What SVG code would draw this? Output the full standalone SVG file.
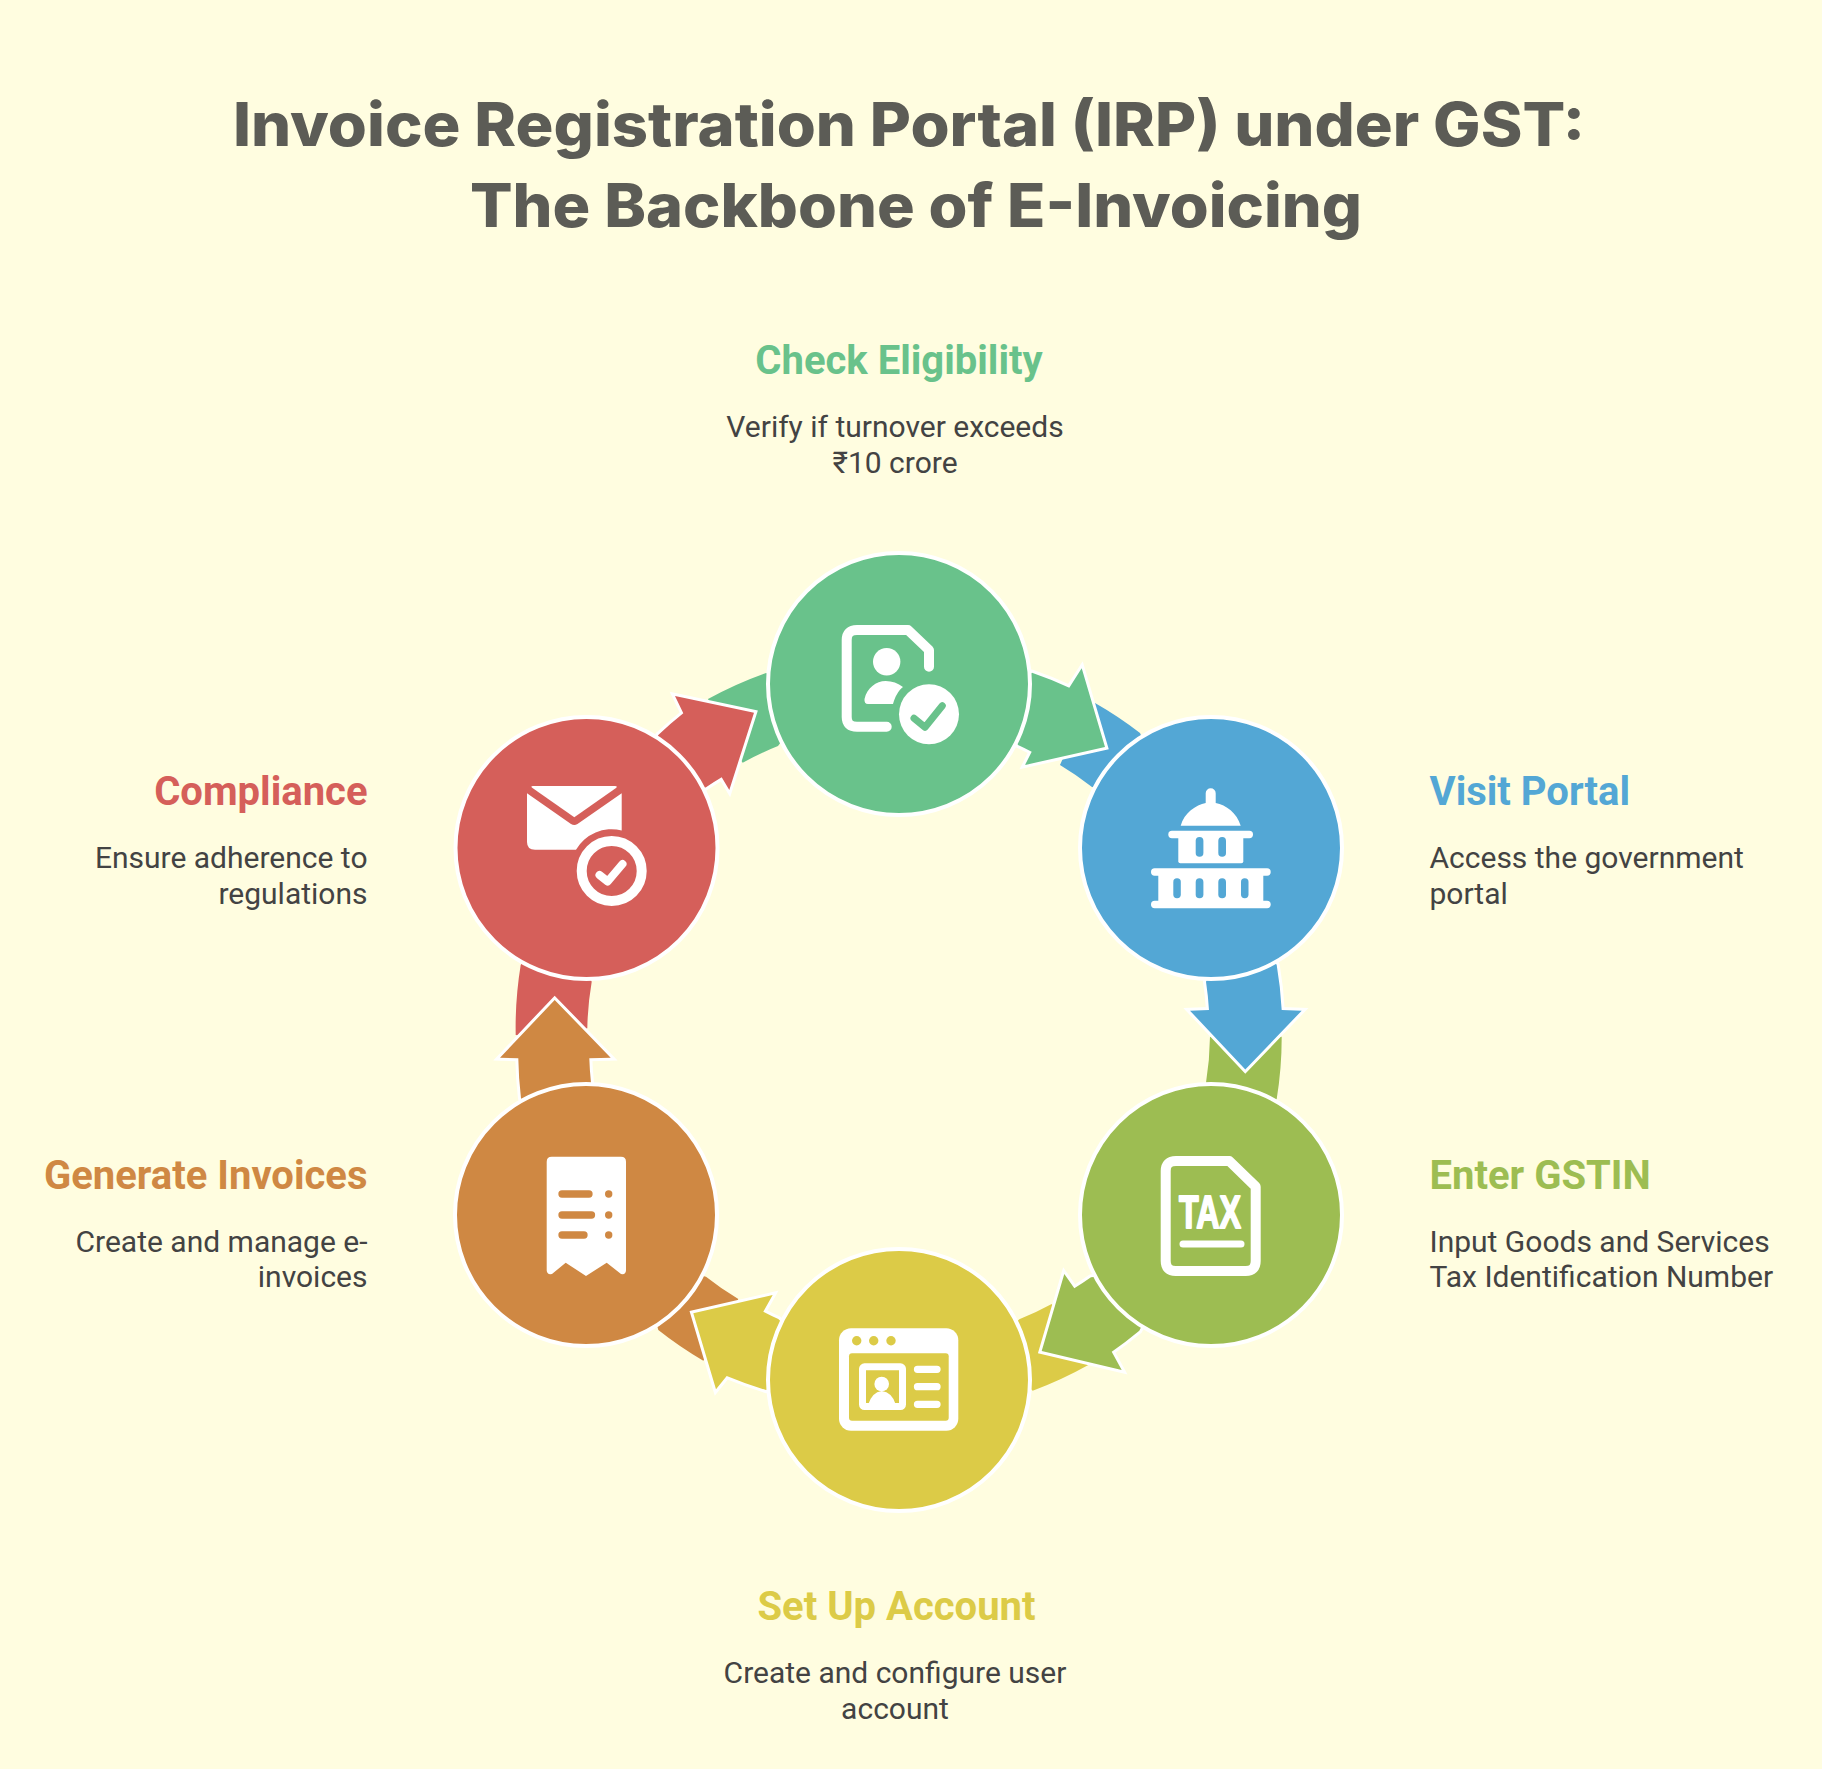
<svg xmlns="http://www.w3.org/2000/svg" width="1822" height="1769" viewBox="0 0 1822 1769">
<style>
.title{font-family:"Inter","Liberation Sans",sans-serif;font-weight:800;font-size:60px;fill:#5c5c56}
.h{font-family:"Roboto","Liberation Sans",sans-serif;font-weight:700;font-size:40px}
.b{font-family:"Roboto","Liberation Sans",sans-serif;font-weight:400;font-size:30px;fill:#434343}
.m{text-anchor:middle}.e{text-anchor:end}
.node{stroke:#fff;stroke-width:4}
.head{stroke:#fff;stroke-width:6;paint-order:stroke;stroke-linejoin:miter;stroke-miterlimit:6}
.w{fill:#fff}.ol{fill:none;stroke:#fff;stroke-linecap:round;stroke-linejoin:round}
.gr{fill:#69c28b}.bl{fill:#53a7d5}.ov{fill:#9dbd52}.ye{fill:#dccb47}.or{fill:#cf8843}.re{fill:#d55f5a}
</style>
<rect width="1822" height="1769" fill="#fffde0"/>
<g id="title">
<text class="title" x="233" y="146" textLength="1352" lengthAdjust="spacingAndGlyphs">Invoice Registration Portal (IRP) under GST:</text>
<text class="title" x="470" y="227" textLength="892" lengthAdjust="spacingAndGlyphs">The Backbone of E-Invoicing</text>
</g>
<g id="connectors">
<path class="gr" d="M708,699A384 384 0 0 1 766,673L820,690L778,746A311 311 0 0 0 742.7,762.7L725,740Z"/>
<path class="bl" d="M1095,703A384 384 0 0 1 1140,733L1170,800L1092,787A311 311 0 0 0 1060,765L1080,720Z"/>
<path class="ov" d="M1281.7,1036.7A384 384 0 0 1 1276.7,1099L1240,1150L1206,1082.7A311 311 0 0 0 1210,1036.7L1245,1040Z"/>
<path class="ye" d="M1088.3,1365A384 384 0 0 1 1032.7,1390.7L990,1350L1019.3,1319.3A311 311 0 0 0 1051.7,1304L1075,1335Z"/>
<path class="or" d="M703.3,1360.7A384 384 0 0 1 658.3,1330L640,1260L706,1276.7A311 311 0 0 0 738.3,1299L720,1340Z"/>
<path class="re" d="M515.7,1035A384 384 0 0 1 520.7,965L560,900L591.7,981.7A311 311 0 0 0 587.3,1028.3L555,1040Z"/>
<path class="head gr" d="M1032,672.7A384 384 0 0 1 1069.3,687.7L1081.7,668.3L1105,747L1025,765L1031.7,751.7A311 311 0 0 0 1018,745L990,700Z"/>
<path class="head bl" d="M1276.7,965A384 384 0 0 1 1281.7,1010L1301.7,1010.7L1245.3,1069.5L1190,1010.7L1209,1010A311 311 0 0 0 1206,981.7L1240,900Z"/>
<path class="head ov" d="M1139.3,1330.7A384 384 0 0 1 1111.7,1351.7L1121.7,1370L1041.7,1351L1064.3,1274L1074.3,1288.3A311 311 0 0 0 1091,1277.3L1170,1270Z"/>
<path class="head ye" d="M766,1390A384 384 0 0 1 726.7,1376L716,1389.3L693.3,1313.3L772.7,1295L763.3,1311.7A311 311 0 0 0 778.3,1319L830,1370Z"/>
<path class="head or" d="M521,1098.3A384 384 0 0 1 518.3,1058.3L500,1057.7L554.7,1000L610.7,1057.7L589.3,1058.3A311 311 0 0 0 591,1082.7L560,1150Z"/>
<path class="head re" d="M658.3,735A384 384 0 0 1 683.3,713.3L675,696L754,712.7L729.3,790L721.7,777.3A311 311 0 0 0 706,787.3L620,820Z"/>
</g>
<g id="node-check-eligibility">
<circle class="node gr" cx="899" cy="684" r="131"/>
<path class="ol" stroke-width="10" d="M886.7,726.7H857Q846.7,726.7 846.7,717V640Q846.7,630 857,630H908L929,650V666.7"/>
<circle class="w" cx="886.7" cy="661.7" r="13.7"/>
<path class="w" d="M868,704Q864,704 864.5,699C867,688 876,681 885.7,681C892,681 898,683 903,687C898,691 895,697 893,704Z"/>
<circle class="w" cx="929" cy="714.3" r="30"/>
<path fill="none" stroke="#69c28b" stroke-width="7" stroke-linecap="round" stroke-linejoin="round" d="M914,718.3L925,727.3L942.3,705.7"/>
</g>
<g id="node-visit-portal">
<circle class="node bl" cx="1211" cy="848" r="131"/>
<path class="w" d="M1180.7,825.7C1184,813 1196,805 1205.7,803V793.3a5,5 0 0 1 10,0V803C1226,805 1237,813 1240.7,825.7Z"/>
<rect class="w" x="1168.3" y="830.7" width="84.7" height="7.5" rx="3.7"/>
<rect class="w" x="1178.3" y="835" width="65" height="28.3" rx="2"/>
<rect class="bl" x="1195.7" y="837" width="7.7" height="19.7" rx="3.8"/><rect class="bl" x="1218.3" y="837" width="7.7" height="19.7" rx="3.8"/>
<rect class="w" x="1151" y="868.3" width="119.7" height="7.5" rx="3.7"/>
<rect class="w" x="1158.3" y="872" width="105" height="32"/>
<rect class="w" x="1151" y="900.7" width="119.7" height="7.5" rx="3.7"/>
<rect class="bl" x="1173.3" y="878.3" width="7.5" height="20" rx="3.7"/><rect class="bl" x="1195.7" y="878.3" width="7.7" height="20" rx="3.8"/><rect class="bl" x="1218.3" y="878.3" width="7.7" height="20" rx="3.8"/><rect class="bl" x="1241" y="878.3" width="7.5" height="20" rx="3.7"/>
</g>
<g id="node-enter-gstin">
<circle class="node ov" cx="1211" cy="1215" r="131"/>
<path class="ol" stroke-width="10" d="M1176,1161H1229.3L1255.7,1186.7V1261Q1255.7,1271 1245.7,1271H1175.7Q1165.7,1271 1165.7,1261V1171Q1165.7,1161 1176,1161Z"/>
<text x="1179" y="1228" textLength="62" lengthAdjust="spacingAndGlyphs" font-family="Liberation Sans,sans-serif" font-weight="700" font-size="47" fill="#fff" stroke="#fff" stroke-width="2" stroke-linejoin="round">TAX</text>
<path class="ol" stroke-width="7" d="M1183,1244H1241"/>
</g>
<g id="node-set-up-account">
<circle class="node ye" cx="899" cy="1380" r="131"/>
<rect class="w" x="839" y="1328.3" width="119.3" height="102.4" rx="12"/>
<rect class="ye" x="849" y="1353.3" width="99.7" height="67.4" rx="3"/>
<circle class="ye" cx="856.7" cy="1340.7" r="4.7"/><circle class="ye" cx="873.7" cy="1340.7" r="4.7"/><circle class="ye" cx="891" cy="1340.7" r="4.7"/>
<rect x="862.5" y="1366.8" width="40" height="39.7" rx="2" fill="none" stroke="#fff" stroke-width="7"/>
<circle class="w" cx="881.7" cy="1384" r="7.3"/>
<path class="w" d="M868,1405Q872,1392 881.7,1391Q892,1392 896,1405Z"/>
<path class="ol" stroke-width="7.3" d="M917.5,1369.3H937M917.5,1386.7H937M917.5,1404.3H937"/>
</g>
<g id="node-generate-invoices">
<circle class="node or" cx="586" cy="1215" r="131"/>
<path class="w" d="M551.7,1156.7H621Q626,1156.7 626,1161.7V1270Q626,1275 621,1274L606.7,1262.7L586,1276L565.7,1262.7L552,1274Q546.7,1275 546.7,1270V1161.7Q546.7,1156.7 551.7,1156.7Z"/>
<path fill="none" stroke="#cf8843" stroke-width="7.3" stroke-linecap="round" d="M562,1194H589M562,1215H591.5M562,1235H584"/>
<circle class="or" cx="608.7" cy="1194" r="3.7"/><circle class="or" cx="608.7" cy="1215" r="3.7"/><circle class="or" cx="608.7" cy="1235" r="3.7"/>
</g>
<g id="node-compliance">
<circle class="node re" cx="586.5" cy="848" r="131"/>
<path class="w" d="M533,786H615Q618,786 616,788L574.3,817.3L532.5,788Q530,786 533,786Z"/>
<path class="w" d="M527,793.3L571,824Q574.3,826 577.5,824L621.7,793.3V830.5A41 41 0 0 0 576,849.8H535Q527,849.8 527,842Z"/>
<circle cx="611.7" cy="871" r="30" fill="none" stroke="#fff" stroke-width="10"/>
<path fill="none" stroke="#fff" stroke-width="8" stroke-linecap="round" stroke-linejoin="round" d="M599.5,875L607.7,881.5L622.5,864"/>
</g>
<g id="labels">
<text class="h m gr" x="899" y="374">Check Eligibility</text>
<text class="b m" x="895" y="436.5">Verify if turnover exceeds</text>
<text class="b m" x="895" y="472.8">₹10 crore</text>
<text class="h" style="fill:#53a7d5" x="1429.5" y="805">Visit Portal</text>
<text class="b" x="1429.5" y="868">Access the government</text>
<text class="b" x="1429.5" y="904">portal</text>
<text class="h ov" x="1429.5" y="1188.5">Enter GSTIN</text>
<text class="b" x="1429.5" y="1252">Input Goods and Services</text>
<text class="b" x="1429.5" y="1287">Tax Identification Number</text>
<text class="h m ye" x="896.5" y="1620">Set Up Account</text>
<text class="b m" x="895" y="1683">Create and configure user</text>
<text class="b m" x="895" y="1719">account</text>
<text class="h e or" x="367.5" y="1188.5">Generate Invoices</text>
<text class="b e" x="367.5" y="1252">Create and manage e-</text>
<text class="b e" x="367.5" y="1287">invoices</text>
<text class="h e re" x="367.5" y="805">Compliance</text>
<text class="b e" x="367.5" y="868">Ensure adherence to</text>
<text class="b e" x="367.5" y="904">regulations</text>
</g>
</svg>
